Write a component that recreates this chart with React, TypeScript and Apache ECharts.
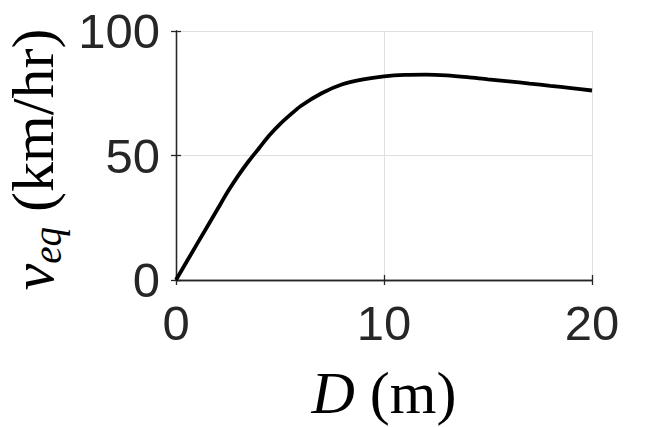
import React, { useEffect, useRef } from "react";
import * as echarts from "echarts";

const distances = [0, 1, 2, 2.5, 3, 3.5, 4, 4.5, 5, 5.5, 6, 7, 8, 9, 10, 11, 12, 13, 14, 15, 16, 17, 18, 19, 20];
const speeds = [0, 14.3, 28.5, 35.6, 42.0, 47.8, 53.0, 58.2, 62.6, 66.4, 69.9, 75.0, 78.6, 80.6, 81.8, 82.4, 82.5, 82.2, 81.5, 80.6, 79.8, 78.9, 78.0, 77.1, 76.1];
const xTicks = [0, 10, 20];
const yTicks = [0, 50, 100];

const AXIS = "#262626";
const GRID = "#dfdfdf";
const SERIF = "'Liberation Serif', 'Times New Roman', serif";
const SANS = "'Liberation Sans', Arial, Helvetica, sans-serif";

export default function App() {
  const ref = useRef<HTMLDivElement>(null);
  useEffect(() => {
    if (!ref.current) return;
    const chart = echarts.init(ref.current, undefined, { renderer: "svg" });
    const tickLabel = { color: AXIS, fontFamily: SANS, fontSize: 49 };
    chart.setOption({
      animation: false,
      backgroundColor: "#ffffff",
      grid: { left: 176, right: 62, top: 31, bottom: 147, containLabel: false, outerBoundsMode: "none" },
      xAxis: [
        {
          type: "value",
          min: xTicks[0],
          max: xTicks[xTicks.length - 1],
          interval: 10,
          position: "bottom",
          axisLine: { show: true, lineStyle: { color: AXIS, width: 1.3 } },
          axisTick: { show: true, inside: true, length: 5, lineStyle: { color: AXIS, width: 1.3 } },
          axisLabel: { ...tickLabel, margin: 18 },
          splitLine: { show: true, lineStyle: { color: GRID, width: 1 } },
          name: "{i|D}{r| (m)}",
          nameLocation: "middle",
          nameGap: 84,
          nameTextStyle: {
            rich: {
              i: { fontFamily: SERIF, fontStyle: "italic", fontSize: 60, lineHeight: 58, color: "#000" },
              r: { fontFamily: SERIF, fontSize: 60, lineHeight: 58, color: "#000" },
            },
          },
        },
        {
          type: "value",
          min: xTicks[0],
          max: xTicks[xTicks.length - 1],
          interval: 10,
          position: "top",
          axisLine: { show: true, lineStyle: { color: AXIS, width: 1.3 } },
          axisTick: { show: true, inside: true, length: 5, lineStyle: { color: AXIS, width: 1.3 } },
          axisLabel: { show: false },
          splitLine: { show: false },
        },
      ],
      yAxis: [
        {
          type: "value",
          min: yTicks[0],
          max: yTicks[yTicks.length - 1],
          interval: 50,
          position: "left",
          axisLine: { show: true, lineStyle: { color: AXIS, width: 1.3 } },
          axisTick: { show: true, inside: true, length: 5, lineStyle: { color: AXIS, width: 1.3 } },
          axisLabel: { ...tickLabel, margin: 16 },
          splitLine: { show: true, lineStyle: { color: GRID, width: 1 } },
          name: "{v|v}{s|eq}{r| (km/hr)}",
          nameLocation: "middle",
          nameRotate: 90,
          nameGap: 108,
          nameTextStyle: {
            rich: {
              v: { fontFamily: SERIF, fontStyle: "italic", fontSize: 60, lineHeight: 69, color: "#000" },
              s: { fontFamily: SERIF, fontStyle: "italic", fontSize: 39, verticalAlign: "bottom", color: "#000" },
              r: { fontFamily: SERIF, fontSize: 60, lineHeight: 69, padding: [0, 8, 0, 0], color: "#000" },
            },
          },
        },
        {
          type: "value",
          min: yTicks[0],
          max: yTicks[yTicks.length - 1],
          interval: 50,
          position: "right",
          axisLine: { show: true, lineStyle: { color: AXIS, width: 1.3 } },
          axisTick: { show: true, inside: true, length: 5, lineStyle: { color: AXIS, width: 1.3 } },
          axisLabel: { show: false },
          splitLine: { show: false },
        },
      ],
      series: [
        {
          type: "line",
          data: distances.map((d, i) => [d, speeds[i]]),
          smooth: 0.3,
          showSymbol: false,
          lineStyle: { color: "#000000", width: 3.8 },
          xAxisIndex: 0,
          yAxisIndex: 0,
        },
      ],
    });
    return () => chart.dispose();
  }, []);
  return (
    <div
      ref={ref}
      style={{ position: "fixed", left: 0, top: 0, width: 654, height: 427, background: "#fff" }}
    />
  );
}
